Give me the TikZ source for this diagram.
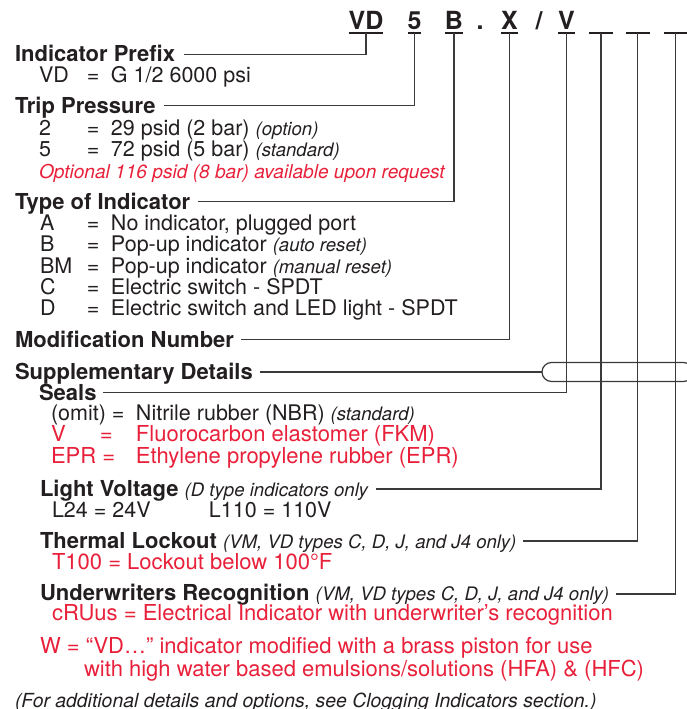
\documentclass[tikz,border=0pt]{standalone}
\usepackage{fontspec}
\setmainfont{TeX Gyre Heros}
\usetikzlibrary{calc}
\definecolor{redtx}{HTML}{E8203A}
\definecolor{ink}{HTML}{231F20}
\definecolor{linec}{HTML}{3A3A3A}
\newcommand\rsz{\fontsize{21.5}{24}\selectfont}
\newcommand\bsz{\fontsize{22}{24}\selectfont\bfseries}
\newcommand\isz{\fontsize{18.6}{20}\selectfont\mdseries\itshape}
\newcommand\csz{\fontsize{25}{28}\selectfont\bfseries}
\newcommand\redsz{\fontsize{22}{24}\selectfont}
\begin{document}
\begin{tikzpicture}[x=1pt,y=-1pt,
  every node/.style={inner sep=0pt, outer sep=0pt, anchor=base west, text=ink},
  hd/.style={font=\bsz},
  tx/.style={font=\rsz},
  rtx/.style={font=\redsz, text=redtx},
  code/.style={font=\csz, anchor=base},
  conn/.style={draw=linec, line width=1.2pt},
  uline/.style={draw=ink, line width=1.4pt}]
\useasboundingbox (0,0) rectangle (687,709);
\clip (0,0) rectangle (687,709);

% code letters
\node[code] (kVD) at (366,30) {VD};
\node[code] (k5) at (414.5,30) {5};
\node[code] (kB) at (454,30) {B};
\node[code] (kdot) at (480,30) {.};
\node[code] (kX) at (509.5,30) {X};
\node[code] (kslash) at (539,30) {/};
\node[code] (kV) at (566.5,30) {V};
\coordinate (b1) at (601,33);
\coordinate (b2) at (637.5,33);
\coordinate (b3) at (675.5,33);
\foreach \k in {kVD,k5,kB,kX,kV}{
  \draw[uline] ($(\k.base west)+(0,3)$) -- ($(\k.base east)+(0,3)$);
}
\foreach \b in {b1,b2,b3}{
  \draw[uline] ($(\b)+(-12,0)$) -- ($(\b)+(12,0)$);
}

% Indicator prefix
\node[hd] (hPre) at (15,62) {Indicator Prefix};
\node[tx] (rVD) at (39,82) {\hbox to 48pt{VD\hss}\hbox to 24pt{=\hss}G 1/2 6000 psi};

% Trip pressure
\node[hd] (hTrip) at (15,113) {Trip Pressure};
\node[tx] (r2) at (39,135) {\hbox to 48pt{2\hss}\hbox to 24pt{=\hss}29 psid (2 bar) {\isz (option)}};
\node[tx] (r5) at (39,156) {\hbox to 48pt{5\hss}\hbox to 24pt{=\hss}72 psid (5 bar) {\isz (standard)}};
\node[font=\fontsize{19.1}{21}\selectfont\itshape, text=redtx] (rOpt) at (39,178) {Optional 116 psid (8 bar) available upon request};

% Type of indicator
\node[hd] (hType) at (15,209) {Type of Indicator};
\node[tx] (rA) at (40,230) {\hbox to 47pt{A\hss}\hbox to 24pt{=\hss}No indicator, plugged port};
\node[tx] (rB) at (40,251) {\hbox to 47pt{B\hss}\hbox to 24pt{=\hss}Pop-up indicator {\isz (auto reset)}};
\node[tx] (rBM) at (40,273) {\hbox to 47pt{BM\hss}\hbox to 24pt{=\hss}Pop-up indicator {\isz (manual reset)}};
\node[tx] (rC) at (40,294) {\hbox to 47pt{C\hss}\hbox to 24pt{=\hss}Electric switch - SPDT};
\node[tx] (rD) at (40,315) {\hbox to 47pt{D\hss}\hbox to 24pt{=\hss}Electric switch and LED light - SPDT};

% Modification number
\node[hd] (hMod) at (15,347) {Modification Number};

% Supplementary
\node[hd] (hSup) at (15,379) {Supplementary Details};
\node[hd] (hSeal) at (39,400) {Seals};
\node[tx] (rOmit) at (51,420) {\hbox to 85pt{(omit) =\hss}Nitrile rubber (NBR) {\isz (standard)}};
\node[rtx] (rVs) at (51,441) {\hbox to 49pt{V\hss}\hbox to 36pt{=\hss}Fluorocarbon elastomer (FKM)};
\node[rtx] (rEPR) at (51,463) {\hbox to 85pt{EPR =\hss}Ethylene propylene rubber (EPR)};

\node[hd] (hLight) at (40,496) {Light Voltage {\isz (D type indicators only}};
\node[tx] (rL) at (52,517) {\hbox to 157pt{L24 = 24V\hss}L110 = 110V};

\node[hd] (hTherm) at (40,548) {Thermal Lockout {\isz (VM, VD types C, D, J, and J4 only)}};
\node[rtx] (rT) at (52,569) {T100 = Lockout below 100°F};

\node[hd] (hUL) at (40,600) {Underwriters Recognition {\isz (VM, VD types C, D, J, and J4 only)}};
\node[rtx] (rUL) at (52,620) {cRUus = Electrical Indicator with underwriter’s recognition};

\node[rtx] (rW) at (40,653) {W = “VD…” indicator modified with a brass piston for use};
\node[rtx] (rW2) at (84,676) {with high water based emulsions/solutions (HFA) \& (HFC)};

\node[font=\fontsize{19.4}{21}\selectfont\itshape] (rFoot) at (15,707) {(For additional details and options, see Clogging Indicators section.)};

% connectors
\draw[conn] ($(hPre.base east)+(9,-7.5)$) -| ($(kVD.base)+(0,3)$);
\draw[conn] ($(hTrip.base east)+(8,-7.5)$) -| ($(k5.base)+(0,3)$);
\draw[conn] ($(hType.base east)+(8,-7.5)$) -| ($(kB.base)+(0,3)$);
\draw[conn] ($(hMod.base east)+(7,-7.5)$) -| ($(kX.base)+(0,3)$);
\draw[conn] ($(hSeal.base east)+(7,-7.5)$) -| ($(kV.base)+(0,3)$);
\draw[conn] ($(hLight.base east)+(8,-7)$) -| (b1);
\draw[conn] ($(hTherm.base east)+(7,-7)$) -| (b2);
\draw[conn] ($(hUL.base east)+(7,-6)$) -| (b3);
\node[draw=linec, line width=1.2pt, rounded corners=9.5pt, minimum width=151pt, minimum height=19pt, anchor=west] (brk) at (542,372) {};
\draw[conn] ($(hSup.base east)+(7,-7)$) -- (brk.west);
\end{tikzpicture}
\end{document}
